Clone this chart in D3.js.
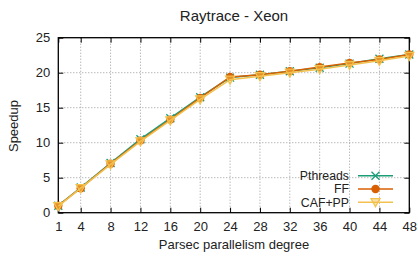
<!DOCTYPE html>
<html><head><meta charset="utf-8">
<script src="https://cdn.jsdelivr.net/npm/d3@7"></script>
<style>body{margin:0;background:#fff}svg{display:block}text{font-family:"Liberation Sans",Arial,sans-serif;fill:#222}</style>
</head><body><svg id="c" width="418" height="258"></svg>
<script>
const xs = [1,4,8,12,16,20,24,28,32,36,40,44,48];
const xTicks = [1,4,8,12,16,20,24,28,32,36,40,44,48];
const yTicks = [0,5,10,15,20,25];
const pthreads = [1.0,3.6,7.1,10.5,13.5,16.5,19.3,19.7,20.2,20.7,21.3,22.0,22.6];
const ff       = [1.0,3.5,7.0,10.3,13.3,16.4,19.4,19.7,20.2,20.8,21.4,21.9,22.6];
const cafpp    = [0.95,3.5,6.9,10.2,13.2,16.2,19.0,19.5,20.0,20.5,21.1,21.7,22.4];
const names = ["Pthreads","FF","CAF+PP"];
const colors = ["#1b9e77","#d95f02","#f2c14e"];
const seriesVals = [pthreads, ff, cafpp];

const svg = d3.select("#c");
const L=58.3,R=409.3,T=37.7,B=212.7;
const x = d3.scaleLinear().domain([1,48]).range([L,R]);
const y = d3.scaleLinear().domain([0,25]).range([B,T]);

// grid
const g = svg.append("g");
xTicks.forEach(t=>{ if(t>1&&t<48) g.append("line").attr("x1",x(t)).attr("x2",x(t)).attr("y1",T).attr("y2",B)
  .attr("stroke","#999").attr("stroke-width",1).attr("stroke-dasharray","1,2"); });
yTicks.forEach(t=>{ if(t>0&&t<25) g.append("line").attr("x1",L).attr("x2",R).attr("y1",y(t)).attr("y2",y(t))
  .attr("stroke","#999").attr("stroke-width",1).attr("stroke-dasharray","1,2"); });

// axes
const ax = svg.append("g").attr("transform",`translate(0,${B})`).call(d3.axisBottom(x).tickValues(xTicks).tickSize(-5).tickPadding(9));
const axT = svg.append("g").attr("transform",`translate(0,${T})`).call(d3.axisTop(x).tickValues(xTicks).tickSize(-5).tickFormat(""));
const ay = svg.append("g").attr("transform",`translate(${L},0)`).call(d3.axisLeft(y).tickValues(yTicks).tickSize(-5).tickPadding(8));
const ayR = svg.append("g").attr("transform",`translate(${R},0)`).call(d3.axisRight(y).tickValues(yTicks).tickSize(-5).tickFormat(""));
[ax,axT,ay,ayR].forEach(a=>{a.select(".domain").remove(); a.selectAll("line").attr("stroke","#000");
  a.selectAll("text").attr("font-size",13).attr("fill","#222").style("font-family","Liberation Sans, Arial, sans-serif");});
svg.append("rect").attr("x",L).attr("y",T).attr("width",R-L).attr("height",B-T).attr("fill","none").attr("stroke","#000").attr("stroke-width",1.3);

function marker(sel,i,cx,cy){
  const c=colors[i];
  if(i===0){
    sel.append("path").attr("d",`M${cx-4},${cy-4}L${cx+4},${cy+4}M${cx-4},${cy+4}L${cx+4},${cy-4}`).attr("stroke",c).attr("stroke-width",1.3).attr("fill","none");
  } else if(i===1){
    sel.append("circle").attr("cx",cx).attr("cy",cy).attr("r",4.2).attr("fill",c);
  } else {
    sel.append("path").attr("d",`M${cx-4.5},${cy-3.5}L${cx+4.5},${cy-3.5}L${cx},${cy+4.5}Z`).attr("stroke",c).attr("stroke-width",1.3).attr("fill",c).attr("fill-opacity",0.5);
  }
}

const line = d3.line().x(d=>x(d[0])).y(d=>y(d[1]));
seriesVals.forEach((vals,i)=>{
  const pts = xs.map((xv,j)=>[xv,vals[j]]);
  const sg = svg.append("g");
  sg.append("path").attr("d",line(pts)).attr("fill","none").attr("stroke",colors[i]).attr("stroke-width",1.5);
  pts.forEach(p=>marker(sg,i,x(p[0]),y(p[1])));
});

// legend
const ly=[175.8,189,202.2];
names.forEach((n,i)=>{
  svg.append("text").attr("x",349).attr("y",ly[i]).attr("dy","0.36em").attr("text-anchor","end").attr("font-size",12.3).text(n);
  svg.append("line").attr("x1",358).attr("x2",393).attr("y1",ly[i]).attr("y2",ly[i]).attr("stroke",colors[i]).attr("stroke-width",1.5);
  marker(svg,i,375.5,ly[i]);
});

svg.append("text").attr("x",234).attr("y",15.5).attr("dy","0.36em").attr("text-anchor","middle").attr("font-size",15).text("Raytrace - Xeon");
svg.append("text").attr("x",234).attr("y",244).attr("dy","0.36em").attr("text-anchor","middle").attr("font-size",13).text("Parsec parallelism degree");
svg.append("text").attr("transform","translate(13,126) rotate(-90)").attr("dy","0.36em").attr("text-anchor","middle").attr("font-size",13).text("Speedup");
</script></body></html>
